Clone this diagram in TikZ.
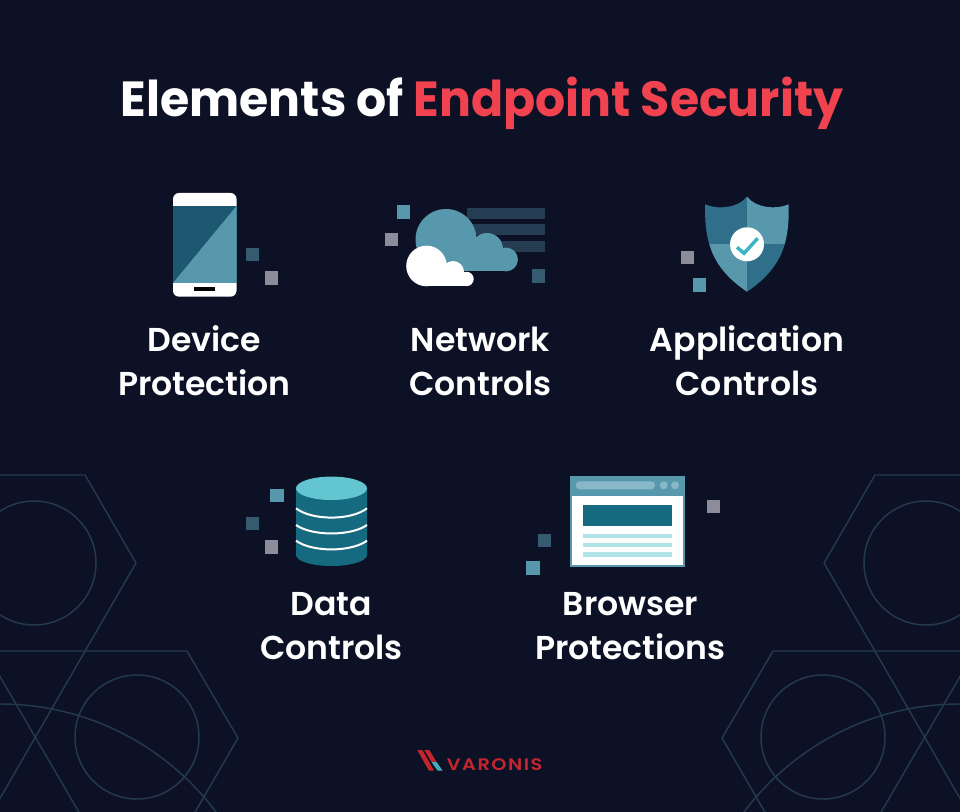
\documentclass[tikz,border=0pt]{standalone}
\usepackage{fontspec}
\setmainfont{Poppins}[BoldFont={Poppins SemiBold}]
\newfontfamily\logofont[LetterSpace=9,FakeStretch=1.16]{Poppins SemiBold}
\newfontfamily\titlefont[FakeStretch=0.96]{Poppins Bold}
\definecolor{nightbg}{HTML}{0D1125}
\definecolor{hexline}{HTML}{24394F}
\definecolor{titlered}{HTML}{F0434F}
\definecolor{logored}{HTML}{C4262E}
\definecolor{bluelight}{HTML}{5898AD}
\definecolor{bluemid}{HTML}{2F6F8A}
\definecolor{bluedark}{HTML}{1C5870}
\definecolor{bluebase}{HTML}{156A80}
\definecolor{bluetop}{HTML}{62C5D0}
\definecolor{bluepale}{HTML}{B0E4E8}
\definecolor{bluepill}{HTML}{88B8C8}
\definecolor{tickblue}{HTML}{3BB4C4}
\definecolor{bitgray}{HTML}{8C8C9A}
\definecolor{bitdark}{HTML}{365A70}
\definecolor{rowdark}{HTML}{253D52}
\tikzset{
  labeltext/.style={text=white,align=center,font=\fontsize{24.8}{33}\selectfont\bfseries},
  hexpath/.style={draw=hexline,line width=1.1pt},
}
\newcommand{\bit}[3]{\fill[#1] (#2,#3) rectangle ++(13.3,13.3);}
\begin{document}
\begin{tikzpicture}[line cap=round,line join=round,x=0.75pt,y=-0.75pt]
\fill[nightbg] (0,0) rectangle (960,812);
\useasboundingbox (0,0) rectangle (960,812);
\begin{scope}
\clip (0,0) rectangle (960,812);
\foreach \side/\shift in {1/0,-1/960}{
  \begin{scope}[xshift=\shift*0.75pt,xscale=\side]
  \draw[hexpath] (-5,475) -- (85,475) -- (136,563) -- (-5,807);
  \draw[hexpath] (34,563) circle (62);
  \draw[hexpath] (-5,651) -- (187,651) -- (238,738) -- (194,814);
  \draw[hexpath] (137,737) circle (62);
  \draw[hexpath] (-5,668) -- (80,814);
  \draw[hexpath] (0,974) circle (270);
  \end{scope}
}
\end{scope}
% title
\node[anchor=base,text=white,font=\fontsize{37}{44}\titlefont] (title) at (482,117) {Elements of \textcolor{titlered}{Endpoint Security}};
% phone
\fill[white,rounded corners=4.5pt] (173,193) rectangle (236.5,296.7);
\fill[bluedark] (173,206) rectangle (236.5,283);
\fill[bluelight] (173,283) -- (236.5,206) -- (236.5,283) -- cycle;
\fill[black] (194.3,287.3) rectangle (214.7,291);
\bit{bitdark}{246}{247.7}
\bit{bitgray}{265}{271.3}
\node[labeltext] (device) at (204.5,360.5) {Device\\Protection};
% cloud
\fill[rowdark] (466.7,207.7) rectangle (545,219);
\fill[rowdark] (466.7,224.3) rectangle (545,235);
\fill[rowdark] (466.7,240.7) rectangle (545,252);
\fill[bluelight] (446,239.5) circle (30.5);
\fill[bluelight] (487,249) circle (16);
\fill[bluelight] (506,259.5) circle (11.9);
\fill[bluelight] (440,250) rectangle (506,271.4);
\fill[white] (426.5,266) circle (20.3);
\fill[white] (453,272) circle (11);
\fill[white] (466.5,279) circle (7.2);
\fill[white] (426.5,272) rectangle (466.5,286.2);
\bit{bluelight}{396.7}{205.3}
\bit{bitgray}{385}{233}
\bit{bitdark}{531.7}{269.3}
\node[labeltext] (network) at (480.5,361) {Network\\Controls};
% shield
\begin{scope}
\clip (705,204.3) .. controls (718,210) and (738,208) .. (747,196.7)
  .. controls (756,208) and (776,210) .. (788.7,204.3)
  .. controls (789,235) and (787,265) .. (747,291.7)
  .. controls (707,265) and (705,235) .. cycle;
\fill[bluemid] (700,190) rectangle (747,244);
\fill[bluelight] (747,190) rectangle (795,244);
\fill[bluelight] (700,244) rectangle (747,295);
\fill[bluemid] (747,244) rectangle (795,295);
\end{scope}
\fill[white] (747,244.3) circle (17);
\draw[tickblue,line width=2.6pt,line cap=butt,line join=miter] (737,247.3) -- (744,253.3) -- (757.7,238.3);
\bit{bitgray}{681}{251}
\bit{bluelight}{692.7}{278.3}
\node[labeltext] (application) at (747,360.5) {Application\\Controls};
% database
\fill[bluebase] (296,488.3) -- (296,555) arc[start angle=180,end angle=360,x radius=35.5,y radius=-11] -- (367,488.3) -- cycle;
\fill[bluetop] (331.5,488.3) ellipse (35.5 and 11.7);
\foreach \edge/\low in {508.3/517.7,525/533.3,540.7/549.3}{
  \draw[white,line width=1.5pt,line cap=butt] (296,\edge) .. controls (312,\low+3) and (351,\low+3) .. (367,\edge);
}
\bit{bluelight}{270.3}{489}
\bit{bitdark}{246}{516.7}
\bit{bitgray}{265}{540.3}
\node[labeltext] (data) at (331.5,626) {Data\\Controls};
% browser
\fill[bluelight] (570,476) rectangle (684.7,566.7);
\fill[white] (572,496) rectangle (682.7,564.7);
\fill[bluepill,rounded corners=3pt] (575.7,481.3) rectangle (655,489.3);
\fill[bluepill] (663.7,485.3) circle (4);
\fill[bluepill] (675,485.3) circle (4);
\fill[bluebase] (583,505) rectangle (671.7,526);
\fill[bluepale] (583,533.7) rectangle (671.7,538.3);
\fill[bluepale] (583,542.7) rectangle (671.7,547.3);
\fill[bluepale] (583,551.7) rectangle (671.7,556.7);
\bit{bitgray}{707}{500}
\bit{bitdark}{538}{534}
\bit{bluelight}{526.3}{561.3}
\node[labeltext] (browser) at (630.5,626) {Browser\\Protections};
% logo
\fill[logored] (417.3,750) -- (422.3,750) -- (434,770.7) -- (429,770.7) -- cycle;
\fill[logored] (424.3,750) -- (429.3,750) -- (436.5,762) -- (431.5,762) -- cycle;
\fill[tickblue!70!bluelight] (431.5,762) -- (436.5,762) -- (442.7,770.7) -- (437.7,770.7) -- cycle;
\node[anchor=base west,inner sep=0pt,text=logored,font=\fontsize{12.5}{14}\logofont] (varonis) at (446.7,770.7) {VARONIS};
\end{tikzpicture}
\end{document}
